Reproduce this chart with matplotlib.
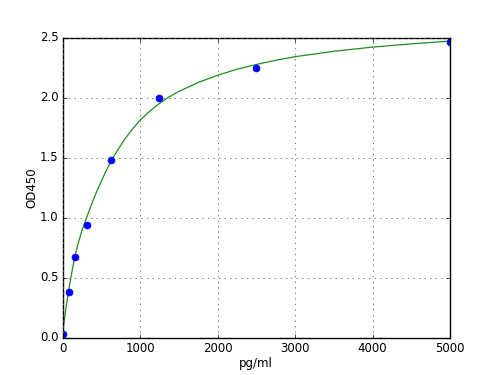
import matplotlib
matplotlib.use('Agg')
import matplotlib.pyplot as plt

# standard points
conc = [0, 78, 156, 312, 625, 1250, 2500, 5000]
od = [0.03, 0.38, 0.67, 0.94, 1.48, 2.00, 2.25, 2.46]

# fitted curve
curve_x = [0, 25, 50, 78, 100, 125, 156, 200, 250, 312, 375, 440, 500, 560,
           625, 700, 800, 900, 1000, 1125, 1250, 1375, 1500, 1750, 2000,
           2250, 2500, 2750, 3000, 3500, 4000, 4500, 5000]
curve_y = [0.03, 0.15, 0.27, 0.385, 0.47, 0.56, 0.665, 0.78, 0.89, 1.00,
           1.11, 1.215, 1.30, 1.385, 1.47, 1.55, 1.65, 1.735, 1.81, 1.885,
           1.95, 2.005, 2.05, 2.125, 2.185, 2.235, 2.275, 2.31, 2.34, 2.385,
           2.42, 2.447, 2.47]

plt.style.use('classic')
plt.rcParams['font.size'] = 8.5

fig = plt.figure(figsize=(5, 3.75), dpi=100)
ax = fig.add_subplot(111)
ax.plot(curve_x, curve_y, '-', color='#1e8c1e', linewidth=0.9)
ax.plot(conc, od, 'bo', markersize=5, markeredgecolor='b')

ax.set_xlim(0, 5000)
ax.set_ylim(0, 2.5)
ax.set_xticks([0, 1000, 2000, 3000, 4000, 5000])
ax.set_yticks([0.0, 0.5, 1.0, 1.5, 2.0, 2.5])
ax.tick_params(labelsize=8.5, length=3, pad=3)
ax.set_xlabel('pg/ml', fontsize=8.5, labelpad=2)
ax.set_ylabel('OD450', fontsize=8.5, labelpad=1)
ax.grid(True, linestyle=':', color='0.4', linewidth=0.6)

fig.savefig('out.png', dpi=100, facecolor='white')
